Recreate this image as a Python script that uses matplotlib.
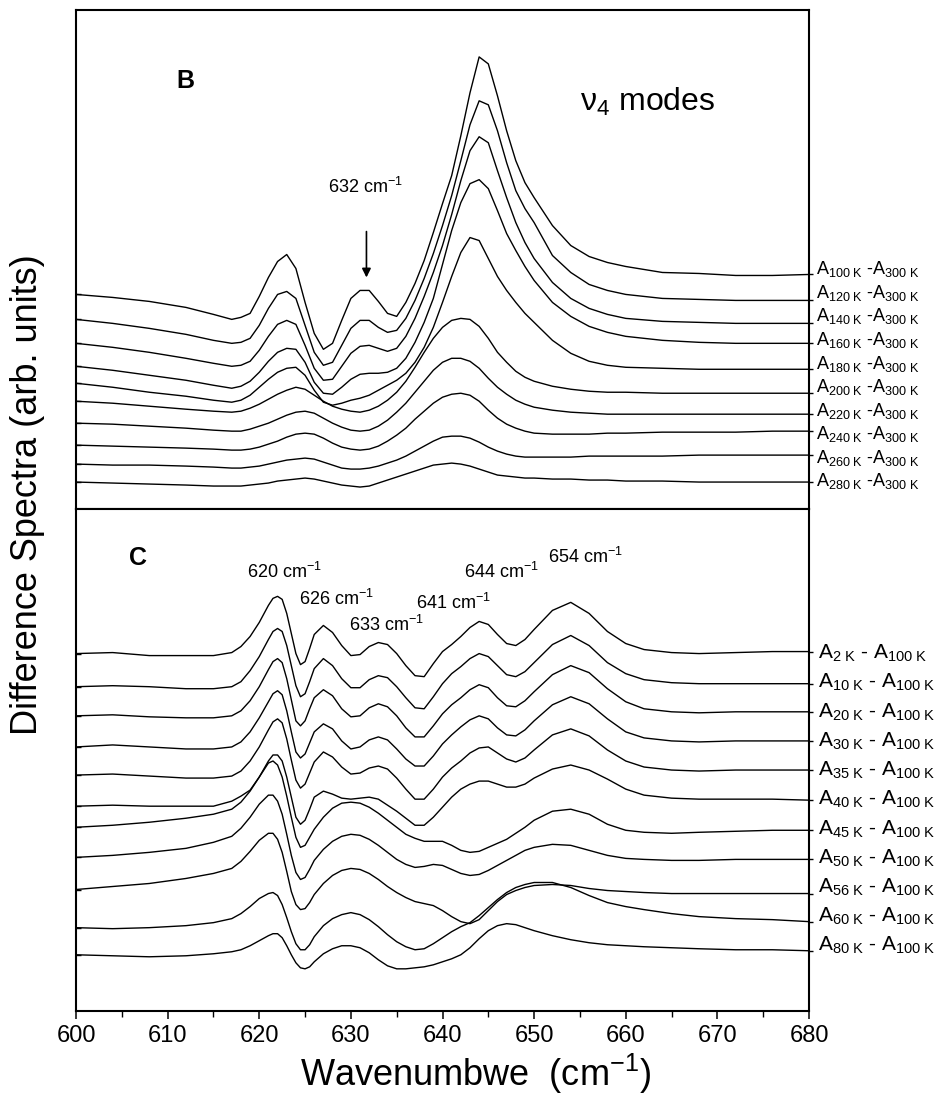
import numpy as np
import matplotlib
matplotlib.use("Agg")
import matplotlib.pyplot as plt
from matplotlib.ticker import MultipleLocator
import matplotlib.transforms as mtransforms

plt.rcParams['font.family'] = ['Liberation Sans', 'DejaVu Sans']
plt.rcParams['mathtext.fontset'] = 'custom'
plt.rcParams['mathtext.rm'] = 'Liberation Sans'
plt.rcParams['mathtext.it'] = 'Liberation Sans:italic'
plt.rcParams['mathtext.bf'] = 'Liberation Sans:bold'

# ---------------- wavenumber grids (cm^-1) ----------------
wn_b = [600, 604, 608, 612, 615, 617, 618, 619, 620, 621, 622, 623, 624, 625, 626,
        627, 628, 629, 630, 631, 632, 633, 634, 635, 636, 637, 638, 639, 640, 641,
        642, 643, 644, 645, 646, 647, 648, 649, 650, 652, 654, 656, 658, 660,
        664, 668, 672, 676, 680]

wn_c = [600, 604, 608, 612, 615, 617, 618, 619, 620, 621, 621.5, 622, 622.5, 623,
        623.5, 624, 624.5, 625, 625.5, 626, 627, 628, 629, 630, 631, 632, 633, 634,
        635, 636, 637, 638, 639, 640, 641, 642, 643, 644, 645, 646, 647, 648, 649,
        650, 652, 654, 656, 658, 660, 662, 665, 668, 672, 676, 680]

# ---------------- panel B: A_T - A_300K (stacked, arb. units) ----------------
b_100K = [21.5, 21.2, 20.8, 20.2, 19.5, 19.0, 19.2, 19.6, 21.3, 23.2, 24.8, 25.5, 24.1, 20.7, 17.6,
          16.0, 16.6, 18.9, 21.1, 21.9, 21.9, 20.8, 19.6, 19.3, 20.7, 22.6, 24.9, 27.7, 30.6, 33.4,
          37.4, 41.7, 45.3, 44.6, 41.4, 37.9, 34.9, 32.7, 31.2, 28.4, 26.4, 25.3, 24.7, 24.3,
          23.7, 23.6, 23.4, 23.4, 23.5]
b_120K = [19.0, 18.6, 18.1, 17.5, 16.9, 16.6, 16.7, 17.1, 18.4, 20.1, 21.5, 21.8, 21.1, 18.4, 15.7,
          14.4, 14.7, 16.4, 18.1, 18.9, 18.9, 18.2, 17.7, 17.9, 19.1, 20.9, 23.1, 25.6, 28.4, 31.4,
          34.9, 38.5, 40.9, 40.5, 37.9, 34.7, 31.9, 30.1, 28.7, 25.4, 23.7, 22.5, 21.9, 21.5,
          21.1, 21.0, 20.9, 20.9, 20.9]
b_140K = [16.6, 16.2, 15.7, 15.1, 14.6, 14.3, 14.4, 14.8, 15.9, 17.3, 18.5, 18.9, 18.5, 16.4, 14.1,
          12.9, 13.0, 14.3, 15.6, 16.3, 16.4, 16.1, 15.8, 16.1, 17.3, 19.1, 21.3, 23.7, 26.4, 29.5,
          32.9, 35.9, 37.3, 36.7, 33.9, 31.2, 28.7, 26.7, 25.1, 22.7, 21.1, 20.1, 19.5, 19.1,
          18.8, 18.7, 18.6, 18.6, 18.6]
b_160K = [14.3, 13.9, 13.4, 12.9, 12.4, 12.1, 12.3, 12.8, 13.7, 14.8, 15.7, 16.1, 16.0, 14.7, 12.7,
          11.6, 11.5, 12.2, 13.0, 13.5, 13.6, 13.6, 13.7, 14.1, 15.1, 16.7, 18.7, 21.1, 24.5, 27.9,
          30.7, 32.6, 33.0, 32.1, 29.9, 27.6, 25.9, 24.3, 22.9, 20.7, 19.3, 18.3, 17.7, 17.3,
          16.9, 16.7, 16.6, 16.6, 16.6]
b_180K = [12.6, 12.2, 11.7, 11.3, 10.9, 10.7, 10.9, 11.4, 12.2, 13.0, 13.7, 14.1, 14.2, 13.4, 11.9,
          10.7, 10.4, 10.6, 10.9, 11.1, 11.4, 11.9, 12.4, 12.9, 13.6, 14.7, 16.2, 18.2, 20.7, 23.3,
          25.7, 27.2, 26.9, 25.1, 23.3, 21.9, 20.7, 19.6, 18.7, 16.9, 15.6, 14.8, 14.4, 14.2,
          14.1, 14.0, 14.0, 14.0, 14.0]
b_200K = [10.8, 10.6, 10.3, 10.0, 9.8, 9.7, 9.8, 10.1, 10.5, 11.0, 11.5, 11.9, 12.2, 12.0, 11.4,
          10.8, 10.3, 10.0, 9.8, 9.7, 9.9, 10.3, 10.9, 11.7, 12.8, 14.2, 15.7, 17.1, 18.2, 18.9,
          19.1, 19.0, 18.3, 17.1, 15.7, 14.7, 13.8, 13.2, 12.8, 12.3, 12.0, 11.8, 11.7, 11.7,
          11.6, 11.6, 11.6, 11.6, 11.6]
b_220K = [8.6, 8.5, 8.3, 8.1, 7.9, 7.8, 7.8, 8.0, 8.3, 8.6, 9.0, 9.4, 9.7, 9.8, 9.6,
          9.1, 8.6, 8.2, 7.9, 7.8, 7.9, 8.3, 8.9, 9.7, 10.6, 11.7, 12.8, 13.9, 14.7, 15.1,
          15.1, 14.8, 14.1, 13.1, 12.2, 11.5, 10.9, 10.5, 10.2, 9.9, 9.7, 9.6, 9.5, 9.5,
          9.5, 9.5, 9.5, 9.5, 9.5]
b_240K = [6.4, 6.3, 6.2, 6.1, 6.0, 5.9, 5.9, 6.0, 6.2, 6.5, 6.8, 7.2, 7.5, 7.6, 7.5,
          7.1, 6.6, 6.2, 6.0, 5.9, 6.0, 6.3, 6.8, 7.4, 8.1, 9.0, 9.8, 10.6, 11.2, 11.5,
          11.6, 11.4, 10.8, 9.9, 9.1, 8.5, 8.1, 7.8, 7.6, 7.5, 7.5, 7.5, 7.6, 7.6,
          7.7, 7.7, 7.7, 7.8, 7.8]
b_260K = [4.5, 4.4, 4.4, 4.3, 4.2, 4.1, 4.1, 4.2, 4.3, 4.5, 4.7, 4.9, 5.0, 5.1, 5.0,
          4.7, 4.4, 4.1, 4.0, 4.0, 4.1, 4.3, 4.6, 4.9, 5.3, 5.8, 6.3, 6.8, 7.2, 7.3,
          7.3, 7.1, 6.7, 6.2, 5.8, 5.5, 5.3, 5.2, 5.2, 5.2, 5.2, 5.3, 5.3, 5.3,
          5.3, 5.4, 5.4, 5.4, 5.4]
b_280K = [2.7, 2.6, 2.5, 2.4, 2.3, 2.3, 2.3, 2.4, 2.5, 2.6, 2.8, 2.9, 3.0, 3.1, 3.0,
          2.8, 2.6, 2.4, 2.3, 2.2, 2.3, 2.6, 2.9, 3.2, 3.5, 3.8, 4.1, 4.4, 4.5, 4.6,
          4.5, 4.3, 4.0, 3.7, 3.4, 3.3, 3.2, 3.1, 3.1, 3.0, 3.0, 2.9, 2.9, 2.8,
          2.8, 2.7, 2.7, 2.7, 2.7]

temps_b = [100, 120, 140, 160, 180, 200, 220, 240, 260, 280]
ref_b = 300

# ---------------- panel C: A_T - A_100K (stacked, arb. units) ----------------
c_2K = [35.6, 35.7, 35.4, 35.4, 35.4, 35.7, 36.3, 37.3, 38.7, 40.4, 41.1, 41.3, 41.0, 39.6, 37.6,
        35.6, 34.5, 34.8, 36.1, 37.5, 38.4, 37.7, 36.4, 35.4, 35.5, 36.3, 36.7, 36.5, 35.6, 34.4,
        33.4, 33.3, 34.6, 35.8, 36.5, 37.3, 38.2, 38.8, 38.5, 37.5, 36.6, 36.4, 37.0, 38.0,
        39.9, 40.7, 39.6, 37.8, 36.6, 36.0, 35.7, 35.6, 35.7, 35.8, 35.8]
c_10K = [32.3, 32.4, 32.3, 32.1, 32.1, 32.3, 32.8, 33.9, 35.3, 37.0, 37.8, 38.1, 37.8, 36.4, 34.4,
         32.4, 31.3, 31.6, 32.8, 34.1, 35.1, 34.4, 33.1, 32.2, 32.2, 33.0, 33.4, 33.2, 32.3, 31.2,
         30.2, 30.1, 31.3, 32.6, 33.6, 34.3, 35.1, 35.6, 35.3, 34.4, 33.5, 33.3, 33.8, 34.7,
         36.5, 37.4, 36.4, 34.7, 33.6, 33.0, 32.7, 32.6, 32.6, 32.6, 32.6]
c_20K = [29.4, 29.5, 29.3, 29.2, 29.2, 29.4, 29.9, 30.9, 32.3, 34.0, 34.8, 35.1, 34.7, 33.1, 31.0,
         28.9, 28.4, 28.9, 30.1, 31.2, 32.0, 31.4, 30.1, 29.3, 29.4, 30.2, 30.6, 30.3, 29.4, 28.2,
         27.3, 27.3, 28.4, 29.6, 30.5, 31.2, 32.0, 32.5, 32.2, 31.2, 30.4, 30.3, 30.9, 31.8,
         33.5, 34.4, 33.7, 32.1, 30.8, 30.1, 29.8, 29.7, 29.8, 29.8, 29.8]
c_30K = [26.3, 26.5, 26.3, 26.1, 26.1, 26.3, 26.8, 27.8, 29.2, 30.8, 31.6, 31.9, 31.5, 29.9, 27.8,
         25.8, 25.2, 25.6, 26.7, 27.8, 28.6, 28.1, 26.9, 26.1, 26.3, 27.0, 27.3, 27.0, 26.1, 25.1,
         24.4, 24.4, 25.4, 26.6, 27.5, 28.3, 29.0, 29.4, 29.1, 28.2, 27.5, 27.4, 28.0, 28.9,
         30.5, 31.3, 30.6, 29.1, 27.8, 27.2, 26.9, 26.8, 26.9, 26.9, 26.9]
c_35K = [23.5, 23.6, 23.4, 23.2, 23.2, 23.4, 23.9, 24.9, 26.3, 28.0, 28.8, 29.1, 28.7, 27.1, 25.0,
         23.0, 22.2, 22.6, 23.7, 24.8, 25.8, 25.3, 24.3, 23.6, 23.7, 24.2, 24.4, 24.1, 23.2, 22.1,
         21.1, 21.1, 22.1, 23.3, 24.2, 24.9, 25.7, 26.2, 26.3, 25.7, 25.1, 24.8, 25.2, 26.0,
         27.5, 28.1, 27.4, 26.0, 24.9, 24.3, 24.0, 23.9, 24.0, 24.0, 24.0]
c_40K = [20.4, 20.5, 20.4, 20.4, 20.4, 20.9, 21.4, 22.0, 23.3, 24.9, 25.5, 25.5, 24.9, 23.3, 21.3,
         19.3, 18.6, 19.0, 20.1, 21.3, 21.9, 21.6, 21.2, 21.1, 21.2, 21.3, 21.1, 20.5, 19.9, 19.2,
         18.5, 18.5, 19.3, 20.3, 21.3, 22.1, 22.6, 22.9, 22.9, 22.6, 22.3, 22.3, 22.6, 23.2,
         24.1, 24.5, 24.0, 23.1, 22.1, 21.5, 21.2, 21.1, 21.1, 21.1, 21.0]
c_45K = [18.3, 18.5, 18.8, 19.2, 19.6, 20.1, 20.8, 21.9, 23.3, 24.7, 24.9, 24.5, 23.3, 21.4, 19.3,
         17.3, 16.3, 16.5, 17.3, 18.1, 19.3, 20.2, 20.7, 20.8, 20.7, 20.3, 19.7, 19.0, 18.3, 17.6,
         17.2, 16.9, 16.9, 16.9, 16.5, 16.0, 15.8, 15.9, 16.3, 16.7, 17.1, 17.7, 18.3, 19.0,
         19.9, 20.1, 19.6, 18.6, 18.0, 17.8, 17.7, 17.8, 17.9, 18.0, 18.0]
c_50K = [15.3, 15.5, 15.8, 16.2, 16.8, 17.4, 18.2, 19.3, 20.6, 21.5, 21.5, 20.9, 19.6, 17.6, 15.5,
         13.8, 13.1, 13.3, 14.1, 15.0, 16.1, 16.9, 17.4, 17.6, 17.5, 17.1, 16.5, 15.8, 15.1, 14.6,
         14.3, 14.4, 14.6, 14.5, 14.1, 13.7, 13.5, 13.6, 14.0, 14.5, 15.0, 15.5, 16.0, 16.3,
         16.6, 16.5, 16.0, 15.5, 15.2, 15.1, 15.0, 15.0, 15.1, 15.1, 15.1]
c_56K = [12.1, 12.4, 12.7, 13.2, 13.7, 14.2, 14.9, 15.9, 17.0, 17.7, 17.7, 17.1, 15.8, 13.9, 11.9,
         10.6, 10.1, 10.2, 10.8, 11.6, 12.7, 13.5, 14.0, 14.2, 14.1, 13.7, 13.1, 12.4, 11.8, 11.3,
         10.9, 10.7, 10.5, 10.0, 9.4, 8.9, 8.7, 9.1, 10.0, 10.9, 11.6, 12.0, 12.3, 12.5,
         12.6, 12.5, 12.2, 12.0, 11.9, 11.8, 11.7, 11.7, 11.7, 11.7, 11.7]
c_60K = [8.3, 8.2, 8.3, 8.5, 8.8, 9.2, 9.7, 10.4, 11.2, 11.7, 11.8, 11.5, 10.6, 9.3, 7.9,
         6.7, 6.1, 6.1, 6.6, 7.4, 8.5, 9.2, 9.6, 9.8, 9.6, 9.1, 8.4, 7.6, 6.9, 6.4,
         6.1, 6.2, 6.7, 7.3, 7.9, 8.4, 8.8, 9.5, 10.3, 11.1, 11.8, 12.3, 12.6, 12.8,
         12.8, 12.3, 11.5, 10.8, 10.4, 10.1, 9.7, 9.4, 9.2, 9.1, 8.9]
c_80K = [5.6, 5.5, 5.4, 5.5, 5.7, 5.9, 6.1, 6.5, 7.0, 7.5, 7.7, 7.7, 7.3, 6.5, 5.6,
         4.8, 4.3, 4.2, 4.4, 4.9, 5.7, 6.2, 6.5, 6.5, 6.3, 5.8, 5.1, 4.5, 4.2, 4.2,
         4.3, 4.4, 4.6, 4.9, 5.2, 5.6, 6.3, 7.2, 8.0, 8.5, 8.7, 8.6, 8.3, 8.0,
         7.5, 7.1, 6.8, 6.6, 6.5, 6.4, 6.3, 6.2, 6.1, 6.1, 6.0]

temps_c = [2, 10, 20, 30, 35, 40, 45, 50, 56, 60, 80]
ref_c = 100

# band positions marked in the figure (cm^-1)
band_b = 632
bands_c = [620, 626, 633, 641, 644, 654]

x_ticks = [600, 610, 620, 630, 640, 650, 660, 670, 680]

spectra_b = [b_100K, b_120K, b_140K, b_160K, b_180K, b_200K, b_220K, b_240K, b_260K, b_280K]
spectra_c = [c_2K, c_10K, c_20K, c_30K, c_35K, c_40K, c_45K, c_50K, c_56K, c_60K, c_80K]

# ---------------- figure ----------------
W, H = 937, 1094
fig = plt.figure(figsize=(W / 100, H / 100), dpi=100)
fig.patch.set_facecolor('white')

left, right = 76 / W, 809 / W
ax_b = fig.add_axes([left, 1 - 509 / H, right - left, (509 - 10) / H])
ax_c = fig.add_axes([left, 1 - 1011 / H, right - left, (1011 - 509) / H])

line_kw = dict(color='black', lw=1.0, solid_joinstyle='round')

for ax in (ax_b, ax_c):
    ax.set_xlim(600, 680)
    ax.set_ylim(0, 50)
    for s in ax.spines.values():
        s.set_linewidth(1.5)

for ys in spectra_b:
    ax_b.plot(wn_b, ys, **line_kw)
for ys in spectra_c:
    ax_c.plot(wn_c, ys, **line_kw)

# y ticks: short inward marks where each trace starts, outward where it ends
for ax, spectra in ((ax_b, spectra_b), (ax_c, spectra_c)):
    ax.set_yticks([s[0] for s in spectra])
    ax.tick_params(axis='y', which='major', direction='in', length=3.5, width=1.0,
                   labelleft=False)
    axr = ax.twinx()
    axr.set_ylim(ax.get_ylim())
    axr.set_yticks([s[-1] for s in spectra])
    axr.tick_params(axis='y', direction='out', length=3, width=1.0, labelright=False)
    for s in axr.spines.values():
        s.set_visible(False)

# x axis
ax_b.set_xticks([])
ax_b.tick_params(axis='x', which='both', bottom=False, labelbottom=False)
ax_c.set_xticks(x_ticks)
ax_c.xaxis.set_minor_locator(MultipleLocator(5))
ax_c.tick_params(axis='x', which='major', direction='out', length=6, width=1.1, pad=4)
ax_c.tick_params(axis='x', which='minor', direction='out', length=4, width=1.0)
ax_c.set_xticklabels([str(t) for t in x_ticks],
                     fontdict=dict(family=['Liberation Sans Narrow', 'Liberation Sans'],
                                   size=17))

# trace labels on the right
tb = mtransforms.blended_transform_factory(ax_b.transAxes, ax_b.transData)
for T, y in zip(temps_b, np.linspace(24.0, 2.8, len(temps_b))):
    ax_b.text(1.010, y, r"A$_{\mathregular{%d\ K}}$ -A$_{\mathregular{%d\ K}}$" % (T, ref_b),
              transform=tb, fontsize=13, va='center', ha='left')

tc = mtransforms.blended_transform_factory(ax_c.transAxes, ax_c.transData)
for T, y in zip(temps_c, np.linspace(35.6, 6.5, len(temps_c))):
    ax_c.text(1.012, y, r"A$_{\mathregular{%d\ K}}$ - A$_{\mathregular{%d\ K}}$" % (T, ref_c),
              transform=tc, fontsize=15, va='center', ha='left')

# panel letters and annotations
ax_b.text(611.9, 42.9, "B", fontsize=18, fontweight='bold', ha='center', va='center')
ax_c.text(606.8, 45.1, "C", fontsize=18, fontweight='bold', ha='center', va='center')

ax_b.text(655.0, 39.9, r"$\mathregular{\nu_4}$ modes", fontsize=23, ha='left',
          va='baseline')

ax_b.text(627.5, 31.7, r"%d cm$^{\mathregular{-1}}$" % band_b, fontsize=13,
          ha='left', va='baseline')
ax_b.annotate("", xy=(631.7, 23.2), xytext=(631.7, 27.8),
              arrowprops=dict(arrowstyle='-|>', color='black', lw=1.2,
                              mutation_scale=13, shrinkA=0, shrinkB=0))

band_text_pos = [(618.7, 43.1), (624.3, 40.4), (629.8, 37.8),
                 (637.1, 40.0), (642.4, 43.1), (651.5, 44.6)]
for b, (x, y) in zip(bands_c, band_text_pos):
    ax_c.text(x, y, r"%d cm$^{\mathregular{-1}}$" % b, fontsize=13,
              ha='left', va='baseline')

# axis titles
fig.text(28 / W, 1 - 495 / H, "Difference Spectra (arb. units)", rotation=90,
         fontsize=26, ha='center', va='center')
fig.text(476 / W, 1 - 1074 / H, r"Wavenumbwe  (cm$^{\mathregular{-1}}$)",
         fontsize=26, ha='center', va='center')

fig.savefig("out.png", dpi=100, facecolor='white')
